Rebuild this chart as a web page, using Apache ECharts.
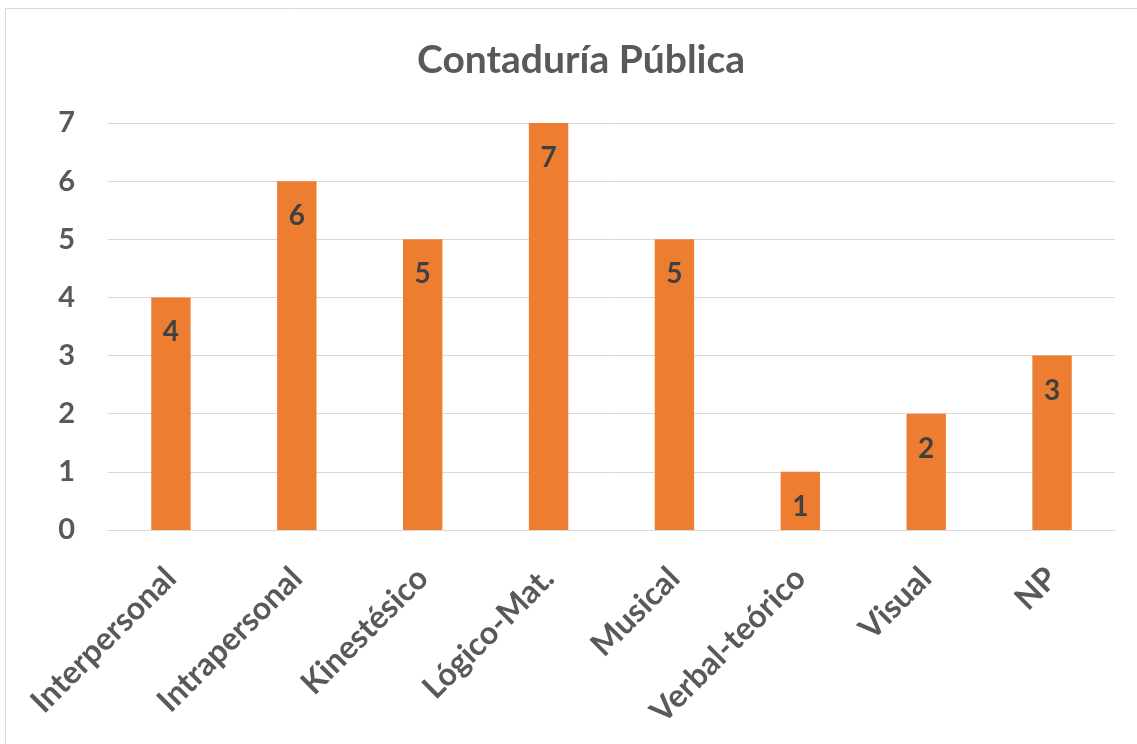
<!DOCTYPE html>
<html>
<head>
<meta charset="utf-8">
<script src="https://cdn.jsdelivr.net/npm/echarts@6/dist/echarts.min.js"></script>
<style>
html,body{margin:0;padding:0;background:#fff;}
#c{width:1137px;height:744px;}
</style>
</head>
<body>
<div id="c"></div>
<script>
const categories = ["Interpersonal","Intrapersonal","Kinestésico","Lógico-Mat.","Musical","Verbal-teórico","Visual","NP"];
const values = [4,6,5,7,5,1,2,3];
const yTicks = {min:0, max:7, interval:1};

const chart = echarts.init(document.getElementById('c'));
const FONT = 'Lato, "Open Sans", sans-serif';
chart.setOption({
  backgroundColor:'#fff',
  animation:false,
  title:{
    text:'Contaduría Pública',
    left:412, top:36,
    textStyle:{fontFamily:FONT, fontSize:39, fontWeight:'bold', color:'#595959'}
  },
  graphic:[{
    type:'rect', silent:true,
    shape:{x:5.5,y:8.5,width:1200,height:800},
    style:{fill:'none',stroke:'#d9d9d9',lineWidth:1}
  }],
  grid:{left:108,right:22,top:123,bottom:214,containLabel:false},
  xAxis:{
    type:'category',
    data:categories,
    axisLine:{lineStyle:{color:'#d9d9d9',width:1}},
    axisTick:{show:false},
    axisLabel:{
      interval:0, rotate:45, margin:43,
      fontFamily:FONT, fontSize:32, fontWeight:'bold', color:'#595959'
    }
  },
  yAxis:{
    type:'value',
    min:yTicks.min, max:yTicks.max, interval:yTicks.interval,
    axisLine:{show:false},
    axisTick:{show:false},
    splitLine:{lineStyle:{color:'#d9d9d9',width:1}},
    axisLabel:{margin:33, fontFamily:FONT, fontSize:29, fontWeight:'bold', color:'#595959'}
  },
  series:[{
    type:'bar',
    data:values,
    barWidth:'31.3%',
    itemStyle:{color:'#ED7D31'},
    label:{
      show:true, position:'insideTop', distance:21,
      fontFamily:FONT, fontSize:28, fontWeight:'bold', color:'#404040'
    }
  }]
});
</script>
</body>
</html>
